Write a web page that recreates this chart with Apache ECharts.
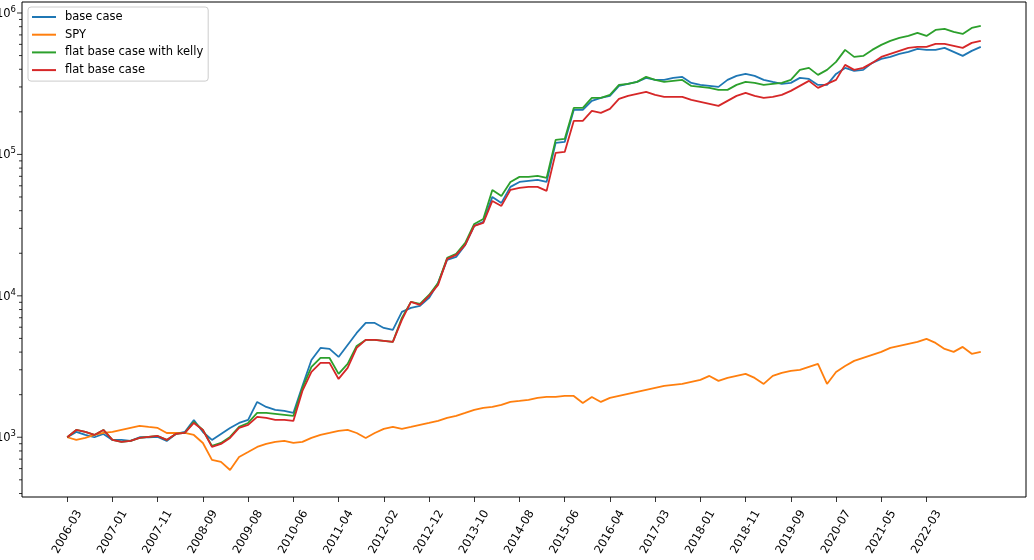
<!DOCTYPE html>
<html>
<head>
<meta charset="utf-8">
<script src="https://cdn.jsdelivr.net/npm/echarts@6/dist/echarts.min.js"></script>
<style>
html, body { margin: 0; padding: 0; background: #fff; }
#chart { width: 1034px; height: 560px; }
</style>
</head>
<body>
<div id="chart"></div>
<script>
// tick labels shown every 5 points along the x axis
var tickLabels = ['2006-03','2007-01','2007-11','2008-09','2009-08','2010-06','2011-04','2012-02','2012-12','2013-10',
                  '2014-08','2015-06','2016-04','2017-03','2018-01','2018-11','2019-09','2020-07','2021-05','2022-03'];

var baseCase = [1000,1090,1038,1000,1055,957,957,942,1000,1000,
    1005,942,1055,1090,1326,1090,957,1055,1163,1262,
    1326,1777,1638,1560,1535,1485,2306,3522,4280,4212,
    3698,4495,5466,6432,6432,5930,5740,7694,8211,8484,
    9665,12337,17946,18841,22909,31205,33305,50050,45394,58920,
    63898,64952,66023,63898,120600,122590,206440,206440,239030,250990,
    259290,305080,315210,325600,347530,336420,336420,347530,353260,320410,
    310100,305080,300210,336420,359090,370940,359090,336420,325600,315210,
    320410,347530,341900,310100,310100,370940,408990,389500,395930,443710,
    473620,489240,513830,530800,557330,548300,548300,566510,530800,497310,
    539520,575840];

var spy = [1000,957,989,1038,1072,1090,1126,1163,1202,1182,
    1163,1072,1072,1072,1038,911,691,669,587,726,
    787,854,897,927,942,911,927,989,1038,1072,
    1108,1126,1072,989,1072,1145,1182,1145,1182,1222,
    1262,1304,1369,1414,1485,1560,1611,1638,1692,1777,
    1806,1836,1897,1928,1928,1960,1960,1749,1928,1777,
    1897,1960,2025,2092,2161,2232,2306,2344,2382,2461,
    2543,2714,2503,2627,2714,2804,2627,2382,2714,2850,
    2944,2993,3143,3300,2382,2897,3194,3466,3640,3821,
    4013,4282,4425,4572,4723,4958,4648,4213,4013,4353,
    3890,4013];

var flatKelly = [1000,1126,1090,1038,1126,957,926,942,989,1005,
    1021,957,1055,1073,1283,1126,868,911,1005,1183,
    1262,1485,1485,1462,1438,1414,2232,3142,3638,3638,
    2804,3299,4423,4877,4877,4798,4721,6980,9056,8765,
    10148,12337,18535,19784,23662,32242,34972,56103,50876,63898,
    69330,69330,70458,68207,126640,128730,213290,213290,250990,250990,
    263560,310100,315210,325600,353260,336420,325600,330960,336420,305080,
    300210,295340,285890,285890,310100,325600,320410,310100,315210,320410,
    336420,395930,408990,364920,395930,451020,548300,489240,497310,548300,
    594800,634830,666600,688800,723300,688800,759500,772000,735100,711600,
    784600,810700];

var flatBase = [1000,1126,1090,1038,1126,957,926,942,989,1005,
    1021,957,1055,1073,1262,1126,854,897,989,1163,
    1222,1392,1369,1326,1326,1304,2125,2896,3354,3354,
    2584,3091,4280,4877,4877,4798,4721,6755,9056,8623,
    9984,11945,18239,19463,22909,31205,32773,46892,43231,56103,
    57965,58920,58920,55206,102470,104160,172590,172590,203100,196600,
    209830,246920,259290,267910,276690,263560,255070,255070,255070,242910,
    235150,227600,220320,239030,259290,272260,259290,250990,255070,263560,
    281260,305080,330960,295340,315210,336420,429540,395930,408990,443710,
    489240,513830,539520,566510,575840,575840,604600,604600,585210,566510,
    614430,634830];

var seriesNames = ['base case', 'SPY', 'flat base case with kelly', 'flat base case'];
var colors = ['#1f77b4', '#ff7f0e', '#2ca02c', '#d62728'];

var perTick = 5;
var pad = 5;   // empty slots at both ends, like matplotlib's margins
var n = baseCase.length;

var categories = [];
for (var i = -pad; i < n + pad; i++) {
    if (i >= 0 && i % perTick === 0 && i / perTick < tickLabels.length) {
        categories.push(tickLabels[i / perTick]);
    } else {
        categories.push('p' + i);
    }
}

function padded(arr) {
    var out = [];
    for (var i = 0; i < pad; i++) out.push(null);
    for (var j = 0; j < arr.length; j++) out.push(arr[j]);
    for (var k = 0; k < pad; k++) out.push(null);
    return out;
}

function isTick(index, value) {
    return tickLabels.indexOf(value) >= 0;
}

var font = 'DejaVu Sans';
var gridLeft = 22, gridTop = 2, gridRight = 8, gridBottom = 63;

var chart = echarts.init(document.getElementById('chart'));

var allData = [baseCase, spy, flatKelly, flatBase];
var series = [];
for (var s = 0; s < allData.length; s++) {
    series.push({
        name: seriesNames[s],
        type: 'line',
        data: padded(allData[s]),
        showSymbol: false,
        symbol: 'none',
        lineStyle: { width: 1.8, color: colors[s] },
        itemStyle: { color: colors[s] }
    });
}

chart.setOption({
    animation: false,
    backgroundColor: '#fff',
    color: colors,
    tooltip: { show: false },
    grid: {
        left: gridLeft,
        right: gridRight,
        top: gridTop,
        bottom: gridBottom,
        containLabel: false,
        outerBoundsMode: 'none',
        show: true,
        borderColor: '#000',
        borderWidth: 1,
        backgroundColor: 'transparent'
    },
    legend: {
        orient: 'vertical',
        left: 28,
        top: 7,
        icon: 'rect',
        itemWidth: 24,
        itemHeight: 2,
        itemGap: 3.7,
        padding: [3, 5, 4, 4],
        backgroundColor: 'rgba(255,255,255,0.8)',
        borderColor: '#cccccc',
        borderWidth: 1,
        borderRadius: 3,
        data: seriesNames,
        textStyle: {
            fontFamily: font,
            fontSize: 11.5,
            color: '#000',
            lineHeight: 14,
            padding: [0, 0, 0, 4]
        }
    },
    xAxis: {
        type: 'category',
        boundaryGap: false,
        data: categories,
        axisLine: { show: false },
        axisTick: { show: true, interval: isTick, length: 5, lineStyle: { color: '#000', width: 0.8 } },
        axisLabel: {
            interval: isTick,
            rotate: 60,
            align: 'center',
            verticalAlign: 'middle',
            margin: 35,
            color: '#000',
            fontFamily: font,
            fontSize: 11.5
        },
        splitLine: { show: false }
    },
    yAxis: {
        type: 'log',
        logBase: 10,
        min: 378,
        max: 1196000,
        axisLine: { show: false },
        axisTick: { show: false },
        splitLine: { show: false },
        minorTick: { show: false },
        axisLabel: {
            margin: 6,
            color: '#000',
            fontFamily: font,
            fontSize: 11.5,
            showMinLabel: false,
            showMaxLabel: false,
            formatter: function (v) {
                var l = Math.log10(v);
                var r = Math.round(l);
                if (Math.abs(l - r) > 1e-6) return '';
                return '{b|10}{s|' + r + '}';
            },
            rich: {
                b: { fontFamily: font, fontSize: 11.5, lineHeight: 14, color: '#000', verticalAlign: 'bottom' },
                s: { fontFamily: font, fontSize: 8.5, lineHeight: 10, color: '#000', verticalAlign: 'bottom', padding: [0, 0, 6, 0] }
            }
        }
    },
    series: series
});

// log-axis ticks (major at powers of ten, minor at 2..9), placed through the axis scale
var graphics = [];
for (var d = 2; d <= 6; d++) {
    for (var m = 1; m <= 9; m++) {
        var v = m * Math.pow(10, d);
        if (v < 378 || v > 1196000) continue;
        var py = chart.convertToPixel({ yAxisIndex: 0 }, v);
        var len = m === 1 ? 5 : 3;
        graphics.push({
            type: 'line',
            silent: true,
            shape: { x1: gridLeft - len, y1: py, x2: gridLeft, y2: py },
            style: { stroke: '#000', lineWidth: 0.8 }
        });
    }
}
chart.setOption({ graphic: graphics });

window.addEventListener('resize', function () {
    chart.resize();
});
</script>
</body>
</html>
